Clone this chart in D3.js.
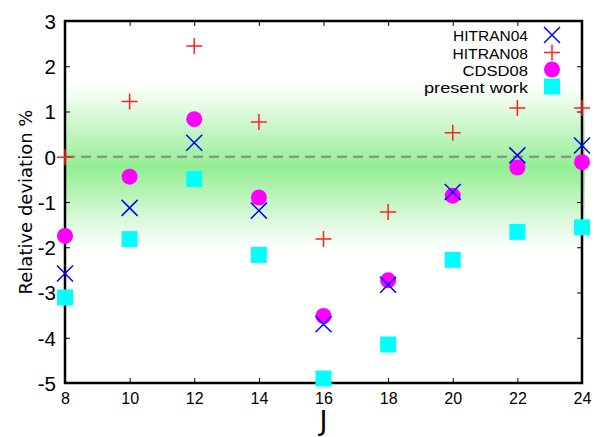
<!DOCTYPE html>
<html><head><meta charset="utf-8">
<script src="https://cdn.jsdelivr.net/npm/d3@7"></script>
<style>body{margin:0;background:#fff}svg{display:block}</style>
</head><body>
<svg id="c" width="601" height="437"></svg>
<script>
const J = [8, 10, 12, 14, 16, 18, 20, 22, 24];
const hitran04 = [-2.58, -1.13, 0.31, -1.19, -3.7, -2.83, -0.78, 0.03, 0.25];
const hitran08 = [-0.01, 1.22, 2.45, 0.77, -1.82, -1.22, 0.53, 1.08, 1.08];
const cdsd08 = [-1.75, -0.44, 0.83, -0.9, -3.52, -2.73, -0.86, -0.24, -0.12];
const present = [-3.11, -1.82, -0.49, -2.17, -4.9, -4.15, -2.28, -1.66, -1.56];
const xTicks = [8, 10, 12, 14, 16, 18, 20, 22, 24];
const yTicks = [-5, -4, -3, -2, -1, 0, 1, 2, 3];
const seriesNames = ["HITRAN04", "HITRAN08", "CDSD08", "present work"];
const band = [1.65, -0.25, -2.1];

const svg = d3.select("#c");
const L = 65, R = 582, T = 21, B = 383;
const x = d3.scaleLinear().domain([8, 24]).range([L, R]);
const y = d3.scaleLinear().domain([-5, 3]).range([B, T]);

// green band gradient
const defs = svg.append("defs");
const g = defs.append("linearGradient").attr("id", "gb").attr("x1", 0).attr("x2", 0).attr("y1", 0).attr("y2", 1);
[[0, "#ffffff"], [0.1, "#eefcee"], [0.3, "#c2f5c2"], [0.5, "#92ee92"], [0.7, "#c2f5c2"], [0.9, "#eefcee"], [1, "#ffffff"]].forEach(s =>
  g.append("stop").attr("offset", s[0]).attr("stop-color", s[1]));
svg.append("rect").attr("x", L).attr("y", y(band[0])).attr("width", R - L + 3)
  .attr("height", y(band[2]) - y(band[0])).attr("fill", "url(#gb)");

// zero dashed line
svg.append("line").attr("x1", L).attr("x2", R).attr("y1", y(0)).attr("y2", y(0))
  .attr("stroke", "#888").attr("stroke-width", 2).attr("stroke-dasharray", "10,6");

// axes
const ax = svg.append("g").attr("font-family", "DejaVu Sans");
ax.append("g").attr("transform", `translate(0,${B})`)
  .call(d3.axisBottom(x).tickValues(xTicks).tickSize(-5).tickPadding(10).tickFormat(d3.format("d")))
  .call(s => { s.selectAll("text").attr("font-size", 16).attr("fill", "#000"); s.select(".domain").remove(); });
ax.append("g").attr("transform", `translate(0,${T})`)
  .call(d3.axisTop(x).tickValues(xTicks).tickSize(-5).tickFormat(""))
  .call(s => s.select(".domain").remove());
ax.append("g").attr("transform", `translate(${L},0)`)
  .call(d3.axisLeft(y).tickValues(yTicks).tickSize(-5).tickPadding(9).tickFormat(d => d < 0 ? "-" + Math.abs(d) : String(d)))
  .call(s => { s.selectAll("text").attr("font-size", 20.5).attr("fill", "#000").attr("dy", "0.36em"); s.select(".domain").remove(); });
ax.append("g").attr("transform", `translate(${R},0)`)
  .call(d3.axisRight(y).tickValues(yTicks).tickSize(-5).tickFormat(""))
  .call(s => s.select(".domain").remove());
ax.selectAll(".tick line").attr("stroke", "#000").attr("stroke-width", 1);
svg.append("rect").attr("x", L).attr("y", T).attr("width", R - L).attr("height", B - T)
  .attr("fill", "none").attr("stroke", "#000").attr("stroke-width", 2.5);

// axis labels
svg.append("text").attr("transform", `translate(32,${(T + B) / 2}) rotate(-90)`).attr("text-anchor", "middle")
  .attr("font-family", "DejaVu Sans").attr("font-size", 18).text("Relative deviation %");
svg.append("text").attr("x", (L + R) / 2).attr("y", 430).attr("text-anchor", "middle")
  .attr("font-family", "DejaVu Sans").attr("font-size", 27).text("J");

// markers
function drawX(sel, cx, cy) {
  const h = 8;
  sel.append("path").attr("d", `M${cx - h},${cy - h}L${cx + h},${cy + h}M${cx - h},${cy + h}L${cx + h},${cy - h}`)
    .attr("stroke", "#0000ff").attr("stroke-width", 1.5).attr("fill", "none");
}
function drawPlus(sel, cx, cy) {
  const h = 8;
  sel.append("path").attr("d", `M${cx - h},${cy}L${cx + h},${cy}M${cx},${cy - h}L${cx},${cy + h}`)
    .attr("stroke", "#ff2020").attr("stroke-width", 1.5).attr("fill", "none");
}
function drawCircle(sel, cx, cy) {
  sel.append("circle").attr("cx", cx).attr("cy", cy).attr("r", 8).attr("fill", "#ff00ff");
}
function drawSquare(sel, cx, cy) {
  sel.append("rect").attr("x", cx - 8).attr("y", cy - 8).attr("width", 16).attr("height", 16).attr("fill", "#00ffff");
}
const drawers = [drawX, drawPlus, drawCircle, drawSquare];
const data = [hitran04, hitran08, cdsd08, present];
const mk = svg.append("g");
[3, 2, 1, 0].forEach(si => {
  data[si].forEach((v, i) => drawers[si](mk, x(J[i]), y(v)));
});

// legend
const lg = svg.append("g");
const legY = [35, 52.5, 69.5, 86.5];
const legW = [75, 75.5, 65.5, 104];
seriesNames.forEach((n, i) => {
  lg.append("text").attr("x", 528).attr("y", legY[i] + 6).attr("text-anchor", "end")
    .attr("font-family", "Liberation Sans").attr("font-size", 14)
    .attr("textLength", legW[i]).attr("lengthAdjust", "spacingAndGlyphs").text(n);
  drawers[i](lg, 552, legY[i]);
});
</script>
</body></html>
